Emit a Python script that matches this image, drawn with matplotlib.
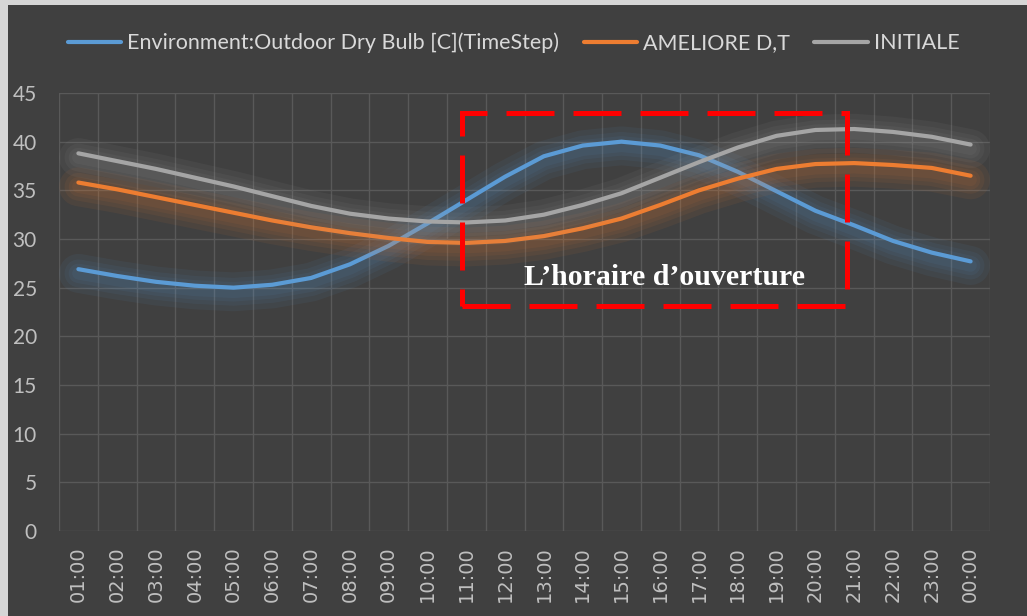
import matplotlib.pyplot as plt
import matplotlib.patheffects as pe
from matplotlib.patches import Rectangle

# hourly temperatures over one day
hours = ["01:00", "02:00", "03:00", "04:00", "05:00", "06:00", "07:00", "08:00",
         "09:00", "10:00", "11:00", "12:00", "13:00", "14:00", "15:00", "16:00",
         "17:00", "18:00", "19:00", "20:00", "21:00", "22:00", "23:00", "00:00"]

outdoor = [26.9, 26.2, 25.6, 25.2, 25.0, 25.3, 26.0, 27.4, 29.3, 31.6, 34.0, 36.4,
           38.5, 39.6, 40.0, 39.6, 38.6, 36.9, 34.9, 32.9, 31.4, 29.8, 28.6, 27.7]
ameliore = [35.8, 35.1, 34.3, 33.5, 32.7, 31.9, 31.2, 30.6, 30.1, 29.7, 29.6, 29.8,
            30.3, 31.1, 32.1, 33.5, 35.0, 36.2, 37.2, 37.7, 37.8, 37.6, 37.3, 36.5]
initiale = [38.8, 38.0, 37.2, 36.3, 35.4, 34.4, 33.4, 32.6, 32.1, 31.8, 31.7, 31.9,
            32.5, 33.5, 34.7, 36.3, 37.9, 39.4, 40.6, 41.2, 41.3, 41.0, 40.5, 39.7]

series_names = ["Environment:Outdoor Dry Bulb [C](TimeStep)", "AMELIORE D,T", "INITIALE"]
colors = ["#5b9bd5", "#ed7d31", "#a5a5a5"]

bg = "#404040"
fig = plt.figure(figsize=(10.27, 6.16), dpi=100, facecolor=bg)

# light frame on the top and left edges
fig.patches.append(Rectangle((0, 0), 8 / 1027, 1, transform=fig.transFigure,
                             facecolor="#d6d6d6", edgecolor="none", zorder=-1))
fig.patches.append(Rectangle((0, 1 - 5 / 616), 1, 5 / 616, transform=fig.transFigure,
                             facecolor="#d6d6d6", edgecolor="none", zorder=-1))

ax = fig.add_axes([59 / 1027, 85 / 616, 931 / 1027, 438 / 616])
ax.set_facecolor(bg)

x = list(range(len(hours)))
for vals, name, c in zip([outdoor, ameliore, initiale], series_names, colors):
    glow = [pe.SimpleLineShadow(offset=(0, -3), shadow_color=c, alpha=0.07, linewidth=w)
            for w in (28, 20, 14, 9)]
    ax.plot(x, vals, color=c, lw=3, label=name, solid_capstyle="round",
            path_effects=glow + [pe.Normal()], zorder=3)

ax.set_xlim(-0.5, len(hours) - 0.5)
ax.set_ylim(0, 45)
ax.set_yticks(range(0, 46, 5))
ax.set_xticks(x)
ax.set_xticklabels(hours, rotation=90, fontsize=14, color="#bfbfbf", family="DejaVu Sans")
for lab in ax.get_yticklabels():
    lab.set_family("Lato")
    lab.set_fontsize(15)
    lab.set_color("#bfbfbf")

# category boundaries as vertical grid
ax.set_xticks([i - 0.5 for i in range(len(hours) + 1)], minor=True)
ax.grid(True, which="minor", axis="x", color="#595959", lw=1)
ax.grid(True, which="major", axis="y", color="#595959", lw=1)
ax.tick_params(axis="both", which="both", length=0)
ax.tick_params(axis="x", pad=11)
ax.tick_params(axis="y", pad=16)
for s in ax.spines.values():
    s.set_visible(False)
ax.set_axisbelow(True)

# opening hours frame
ax.add_patch(Rectangle((9.89, 23.1), 9.92, 19.84, fill=False, edgecolor="#ff0000",
                       lw=3.6, linestyle=(0, (9.6, 3.8)), zorder=5))
ax.text(15.1, 26.0, "L’horaire d’ouverture", family="Liberation Serif", weight="bold",
        fontsize=21.5, color="white", ha="center", va="center", zorder=6)

leg = fig.legend(loc="center", bbox_to_anchor=(0.5, 1 - 43 / 616), ncol=3, frameon=False,
                 prop={"family": "Lato", "size": 15.5}, handlelength=2.5, handletextpad=0.25,
                 columnspacing=1.15)
for t in leg.get_texts():
    t.set_color("#d9d9d9")
for h in leg.legend_handles:
    h.set_path_effects([])
    h.set_linewidth(3)

fig.savefig("out.png", dpi=100, facecolor=bg)
